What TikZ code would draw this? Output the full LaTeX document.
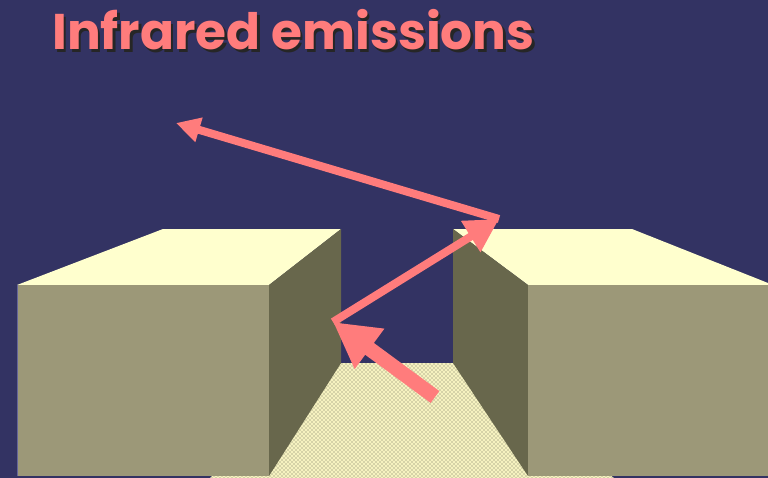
\documentclass[tikz,border=0pt]{standalone}
\usepackage{fontspec}
\setmainfont{Poppins}
\usetikzlibrary{arrows.meta,patterns}

\definecolor{nightsky}{RGB}{51,51,99}
\definecolor{irpink}{RGB}{255,124,124}
\definecolor{blocktop}{RGB}{255,255,206}
\definecolor{blockfront}{RGB}{156,152,120}
\definecolor{blockside}{RGB}{104,103,76}
\definecolor{floorbase}{RGB}{246,242,192}
\definecolor{floordot}{RGB}{112,110,92}

\begin{document}
\begin{tikzpicture}[x=0.75pt,y=0.75pt,yscale=-1,xscale=1,
    ray/.style={irpink,line width=6pt},
    title/.style={anchor=base west,inner sep=0pt,font=\fontsize{37.6}{42}\selectfont\bfseries}]
  %Background
  \fill[nightsky] (0,0) rectangle (768,478);
  \useasboundingbox (0,0) rectangle (768,478);

  % Text Node (with its shadow)
  \node[title,black!85] at (54.5,52.5) {Infrared emissions};
  \node[title,irpink] (heading) at (52,50) {Infrared emissions};

  %Shape: floor between the blocks
  \fill[floorbase] (341,363) -- (453,363) -- (614,478) -- (210,478) -- cycle;
  \fill[pattern=crosshatch dots,pattern color=floordot] (341,363) -- (453,363) -- (614,478) -- (210,478) -- cycle;

  %Shape: left block
  \fill[blocktop] (17,285) -- (163,229) -- (341,229) -- (269,285) -- cycle;
  \fill[blockside] (269,285) -- (341,229) -- (341,363) -- (269,476) -- cycle;
  \fill[blockfront] (17,285) rectangle (269,476);
  \draw[blue!20!gray,line width=0.6pt] (17,476) -- (17,285);

  %Shape: right block
  \fill[blocktop] (453,229) -- (632,229) -- (768,283) -- (768,285) -- (528,285) -- cycle;
  \fill[blockside] (453,229) -- (528,285) -- (528,476) -- (453,363) -- cycle;
  \fill[blockfront] (528,285) rectangle (768,476);

  % Ray path
  \coordinate (source) at (435,397);
  \coordinate (wall) at (333,322);
  \coordinate (corner) at (499,219);
  \coordinate (sky) at (176,123);

  %Straight Lines: incoming ray
  \draw[irpink,line width=11pt,-{Triangle[length=34pt,width=35pt]}] (source) -- (wall);
  %Straight Lines: first reflection
  \draw[ray,-{Triangle[length=25pt,width=26pt]}] (wall) -- (corner);
  %Straight Lines: escaping ray
  \draw[ray,-{Triangle[length=18pt,width=18pt]}] (corner) -- (sky);
\end{tikzpicture}
\end{document}
